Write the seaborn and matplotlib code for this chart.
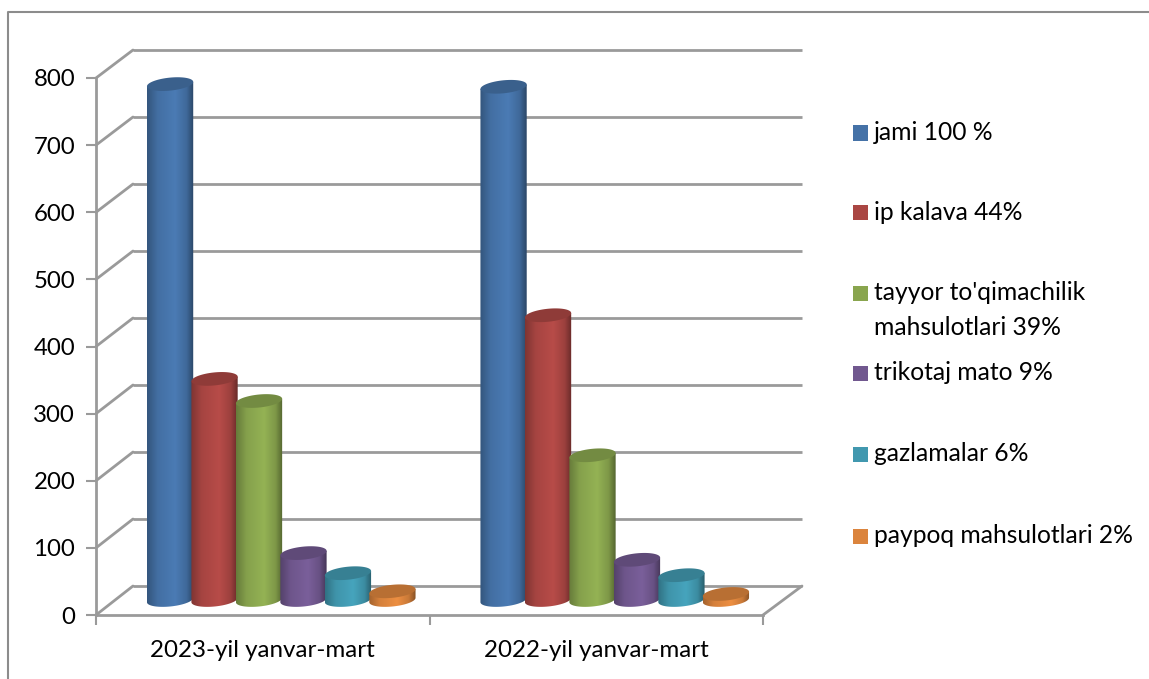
import numpy as np
import pandas as pd
import seaborn as sns
import matplotlib.pyplot as plt
from matplotlib.colors import LinearSegmentedColormap, to_rgb
from matplotlib.lines import Line2D
from matplotlib.patches import ConnectionPatch, Polygon, Rectangle

# values
periods = ["2023-yil yanvar-mart", "2022-yil yanvar-mart"]
series = ["jami 100 %", "ip kalava 44%", "tayyor to'qimachilik\nmahsulotlari 39%",
          "trikotaj mato 9%", "gazlamalar 6%", "paypoq mahsulotlari 2%"]
values_2023 = [770, 330, 297, 70, 40, 13]
values_2022 = [766, 425, 216, 60, 37, 9]
colors = ["#4572A7", "#AA4643", "#89A54E", "#71588F", "#4198AF", "#DB843D"]
yticks = [0, 100, 200, 300, 400, 500, 600, 700, 800]

W, H = 1149, 679
GRID = "#9a9a9a"

sns.set_theme(style="white")
plt.rcParams["font.family"] = ["Lato", "DejaVu Sans"]

df = pd.DataFrame({
    "davr": [periods[0]] * 6 + [periods[1]] * 6,
    "tur": series * 2,
    "qiymat": values_2023 + values_2022,
})

fig = plt.figure(figsize=(W / 100, H / 100), dpi=100)


def px_axes(left, right, top, bottom):
    return fig.add_axes([left / W, 1 - bottom / H, (right - left) / W, (bottom - top) / H])


# back wall, front plane and the plane the cylinders stand on
ax_back = px_axes(133, 802, 50, 586)
ax = px_axes(96, 763, 78, 615)
ax_b = px_axes(114.5, 781.5, 64, 626.8)
ax_back.set_zorder(1)
ax.set_zorder(2)
ax_b.set_zorder(3)

for a in (ax_back, ax):
    a.set_xlim(-0.5, 1.5)
    a.set_ylim(0, 800)
    a.patch.set_visible(False)

ax_back.hlines(yticks, -0.5, 1.5, color=GRID, lw=2, clip_on=False)
ax_back.axis("off")

# front plane axis
for s in ["top", "right"]:
    ax.spines[s].set_visible(False)
for s in ["left", "bottom"]:
    ax.spines[s].set_color(GRID)
    ax.spines[s].set_linewidth(2)
ax.set_yticks(yticks)
ax.set_xticks([-0.5, 0.5, 1.5])
ax.set_xticklabels([])
ax.set_xticks([0, 1], periods, minor=True)
ax.tick_params(axis="y", length=7, width=1.5, color=GRID, left=True, pad=8, labelsize=17.3, labelcolor="black")
ax.tick_params(axis="x", which="major", length=7, width=1.5, color=GRID, bottom=True)
ax.tick_params(axis="x", which="minor", length=0, pad=18, labelsize=17.4, labelcolor="black")

# diagonals between front plane and back wall
for v in yticks:
    fig.add_artist(ConnectionPatch((-0.5, v), (-0.5, v), coordsA=ax.transData, coordsB=ax_back.transData,
                                   color=GRID, lw=2))
fig.add_artist(ConnectionPatch((1.5, 0), (1.5, 0), coordsA=ax.transData, coordsB=ax_back.transData,
                               color=GRID, lw=2))

sns.barplot(data=df, x="davr", y="qiymat", hue="tur", order=periods, hue_order=series,
            palette=colors, width=0.8, gap=0, errorbar=None, legend=False, ax=ax_b)
ax_b.set_xlim(-0.5, 1.5)
ax_b.set_ylim(-40, 800)
ax_b.axis("off")

# turn every flat bar into a shaded cylinder
px_x = 333.5
px_y = 0.67
b = 6.5 / px_y
shear = 2.2 / px_y
t = np.linspace(0, 2 * np.pi, 80)
bars = list(ax_b.patches)
order = sorted(range(len(bars)), key=lambda i: bars[i].get_x())
for n, i in enumerate(order):
    bar = bars[i]
    c = np.array(to_rgb(colors[n % 6]))
    cx = bar.get_x() + bar.get_width() / 2
    a_x = bar.get_width() / 2 + 0.9 / px_x
    v = bar.get_height()
    ex = cx + a_x * np.cos(t)
    ey = b * np.sin(t) + shear * np.cos(t)

    low = t[:40] + np.pi
    low_x = cx + a_x * np.cos(low)
    low_y = b * np.sin(low) + shear * np.cos(low)
    body = np.vstack([np.column_stack([low_x, low_y]),
                      [[cx + a_x, v + shear], [cx - a_x, v - shear]]])
    body_patch = Polygon(body, closed=True, transform=ax_b.transData, fc="none", ec="none")
    ax_b.add_patch(body_patch)

    cmap = LinearSegmentedColormap.from_list(
        "cyl", [(0, c * 0.75), (0.22, c * 0.97), (0.6, np.minimum(c * 1.08, 1)), (0.85, c * 0.92), (1, c * 0.62)])
    im = ax_b.imshow(np.linspace(0, 1, 64)[None, :], extent=[cx - a_x, cx + a_x, -2 * b, v + 2 * b],
                     aspect="auto", cmap=cmap, zorder=3 + n * 0.01, interpolation="bilinear")
    im.set_clip_path(body_patch)
    ax_b.fill(ex, v + ey, color=c * 0.84, lw=0, zorder=3 + n * 0.01 + 0.001)
    bar.set_visible(False)

ax_b.set_xlim(-0.5, 1.5)
ax_b.set_ylim(-40, 800)

# legend, entries spaced by hand like the original
legend_y = [133, 213, 293, 373, 454, 536]
for name, col, y in zip(series, colors, legend_y):
    fig.add_artist(Rectangle((853 / W, 1 - (y + 7.5) / H), 15 / W, 15 / H, transform=fig.transFigure,
                             fc=col, ec="none"))
    top = y - 12
    fig.text(874 / W, 1 - top / H, name, ha="left", va="top", fontsize=17.7, color="black", linespacing=1.62)

# outer chart frame, only top and left are inside the crop
fig.add_artist(Line2D([8 / W, 8 / W, 1], [0, 1 - 12 / H, 1 - 12 / H], color="#8c8c8c", lw=1.5))

fig.savefig("out.png", dpi=100)
